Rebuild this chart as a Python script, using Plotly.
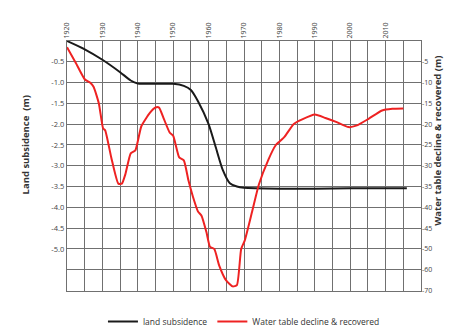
import plotly.graph_objects as go

# Land subsidence (m)
sub_years = [1920, 1925, 1930, 1935, 1938, 1940, 1945, 1950, 1953, 1955, 1957, 1960, 1962, 1964, 1966, 1968, 1970, 1980, 1990, 2000, 2010, 2016]
sub_vals = [0.0, -0.2, -0.45, -0.75, -0.95, -1.02, -1.03, -1.03, -1.08, -1.18, -1.45, -2.0, -2.55, -3.1, -3.42, -3.5, -3.53, -3.55, -3.55, -3.54, -3.54, -3.54]

# Water table decline & recovered (m)
wt_years = [1920, 1922.5, 1925, 1926.5, 1927.5, 1929, 1930.2, 1930.8, 1932.5, 1934.5, 1935.5, 1936.5, 1938, 1939.3,
            1941, 1943.4, 1945, 1946, 1947.3, 1949, 1950, 1951.7, 1953, 1954.3, 1955.6, 1957, 1958, 1959.4, 1960.4,
            1961.6, 1963, 1964.9, 1966.8, 1968, 1969.2, 1970.2, 1972.3, 1974.2, 1976.9, 1979, 1980, 1981.5, 1984,
            1986.6, 1990, 1993, 1996.2, 1999.5, 2001.9, 2005.2, 2009, 2011.9, 2015]
wt_vals = [-1.5, -5.3, -9.2, -10, -11, -15, -21, -21.5, -28, -34.3, -34.3, -32, -27, -26.3,
           -20.5, -17.3, -16, -16, -18.6, -22, -22.8, -28, -28.7, -33.5, -37.5, -41, -42, -46, -49.5,
           -50, -58, -65, -68, -67.4, -50, -48, -41, -34.5, -28.5, -25, -24.2, -23, -20,
           -18.8, -17.7, -18.5, -19.5, -20.7, -20.3, -18.7, -16.7, -16.3, -16.2]

# Tick labels
year_ticks = list(range(1920, 2020, 5))
year_labels = [str(y) if y % 10 == 0 else "" for y in year_ticks]
left_ticks = [-0.5, -1.0, -1.5, -2.0, -2.5, -3.0, -3.5, -4.0, -4.5, -5.0, -5.5]
left_labels = ["-0.5", "-1.0", "-1.5", "-2.0", "-2.5", "-3.0", "-3.5", "-4.0", "-4.5", "-5.0", ""]
right_vals = [-5, -10, -15, -20, -25, -30, -35, -40, -45, -50, -60, -70]
right_labels = [str(v) for v in right_vals]


def wt_scale(w):
    # right axis is broken: 5 m per grid step down to -50, then 10 m per step
    return w / 10.0 if w >= -50 else -5.0 + (w + 50) / 20.0


fig = go.Figure()
fig.add_trace(go.Scatter(x=sub_years, y=sub_vals, mode="lines", name="land subsidence",
                         line=dict(color="#1a1a1a", width=2, shape="spline", smoothing=0.6)))
fig.add_trace(go.Scatter(x=wt_years, y=[wt_scale(w) for w in wt_vals], mode="lines",
                         name="Water table decline & recovered", yaxis="y2",
                         line=dict(color="#ee2222", width=2, shape="spline", smoothing=0.5)))

grid = "#707070"
tickfont = dict(family="Open Sans, Arial, sans-serif", size=7.5, color="#444")
fig.update_layout(
    width=452, height=328,
    margin=dict(l=59, r=39, t=33, b=20),
    paper_bgcolor="white", plot_bgcolor="white",
    font=dict(family="Open Sans, Arial, sans-serif", color="#333"),
    showlegend=True,
    legend=dict(orientation="h", x=0.522, xanchor="center", xref="container",
                y=-0.01, yanchor="bottom", yref="container",
                font=dict(size=8.5, color="#333"), itemwidth=30, tracegroupgap=0,
                bgcolor="rgba(0,0,0,0)"),
    xaxis=dict(side="top", range=[1920, 2020], tickvals=year_ticks, ticktext=year_labels,
               tickangle=-90, tickfont=dict(family="Open Sans, Arial, sans-serif", size=7, color="#444"),
               showgrid=True, gridcolor=grid, gridwidth=1.4, zeroline=False,
               showline=True, linecolor=grid, linewidth=1.4, mirror=True, ticks=""),
    yaxis=dict(range=[-6.0, 0], tickvals=left_ticks, ticktext=left_labels, tickfont=tickfont,
               showgrid=True, gridcolor=grid, gridwidth=1.4, zeroline=False,
               showline=True, linecolor=grid, linewidth=1.4, mirror=True, ticks=""),
    yaxis2=dict(range=[-6.0, 0], overlaying="y", side="right",
                tickvals=[wt_scale(v) for v in right_vals], ticktext=right_labels,
                tickfont=dict(family="Open Sans, Arial, sans-serif", size=7, color="#444"),
                showgrid=False, zeroline=False, showline=False, ticks=""),
    annotations=[
        dict(text="<b>Land subsidence  (m)</b>", x=17, y=147, xref="paper", yref="paper",
             xanchor="center", yanchor="middle",
             showarrow=False, textangle=-90, font=dict(size=9.5, color="#333")),
        dict(text="<b>Water table decline &amp; recovered (m)</b>", x=430, y=143, xref="paper", yref="paper",
             xanchor="center", yanchor="middle",
             showarrow=False, textangle=-90, font=dict(size=9.5, color="#333")),
    ],
)
# convert pixel positions of the axis titles to paper coordinates
pw, ph = 452 - 59 - 39, 328 - 33 - 20
for a in fig.layout.annotations:
    a.x = (a.x - 59) / pw
    a.y = (328 - 20 - a.y) / ph
fig.write_html("out.html")
